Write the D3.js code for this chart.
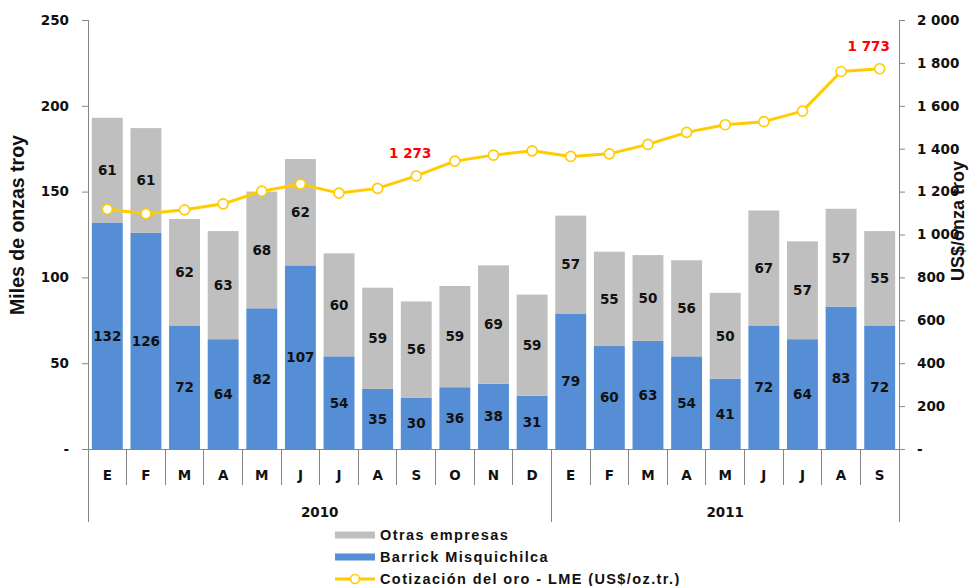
<!DOCTYPE html>
<html><head><meta charset="utf-8">
<script src="https://cdn.jsdelivr.net/npm/d3@7"></script>
<style>
body{margin:0;background:#fff;}
svg{display:block;}
</style></head>
<body>
<svg id="c" width="970" height="586"></svg>
<script>
const months = ["E","F","M","A","M","J","J","A","S","O","N","D","E","F","M","A","M","J","J","A","S"];
const years = [{label:"2010", start:0, end:12},{label:"2011", start:12, end:21}];
const barrick = [132,126,72,64,82,107,54,35,30,36,38,31,79,60,63,54,41,72,64,83,72];
const otras = [61,61,62,63,68,62,60,59,56,59,69,59,57,55,50,56,50,67,57,57,55];
const gold = [1118,1097,1115,1143,1202,1235,1193,1215,1273,1342,1370,1390,1364,1376,1420,1476,1512,1526,1575,1760,1773];
const goldLabels = [{i:8, text:"1 273", dx:-6},{i:20, text:"1 773", dx:-11}];
const leftTicks = [0,50,100,150,200,250];
const rightTicks = [0,200,400,600,800,1000,1200,1400,1600,1800,2000];
const seriesNames = ["Otras empresas","Barrick Misquichilca","Cotización del oro - LME (US$/oz.tr.)"];

const C = {blue:"#558ED5", gray:"#BFBFBF", gold:"#FFCC00", axis:"#868686", red:"#FF0000"};
const numFont = "'DejaVu Sans', Verdana, sans-serif";
const svg = d3.select("#c");

const L = 88, R = 899, T = 20, B = 449;
const x = d3.scaleBand().domain(d3.range(months.length)).range([L,R]).paddingInner(0.2).paddingOuter(0.1);
const y = d3.scaleLinear().domain([0,250]).range([B,T]);
const y2 = d3.scaleLinear().domain([0,2000]).range([B,T]);
const step = x.step();

// bars
const g = svg.append("g");
g.selectAll(".b").data(barrick).join("rect")
  .attr("x",(d,i)=>x(i)).attr("width",x.bandwidth())
  .attr("y",d=>y(d)).attr("height",d=>y(0)-y(d)).attr("fill",C.blue);
g.selectAll(".o").data(otras).join("rect")
  .attr("x",(d,i)=>x(i)).attr("width",x.bandwidth())
  .attr("y",(d,i)=>y(barrick[i]+d)).attr("height",(d,i)=>y(barrick[i])-y(barrick[i]+d)).attr("fill",C.gray);

// value labels
const lab = svg.append("g").attr("font-family",numFont).attr("font-weight","bold").attr("font-size",13.5).attr("fill","#111").attr("text-anchor","middle");
barrick.forEach((d,i)=>{
  lab.append("text").attr("x",x(i)+x.bandwidth()/2).attr("y",y(d/2)).attr("dy","0.36em").text(d);
  lab.append("text").attr("x",x(i)+x.bandwidth()/2).attr("y",y(d+otras[i]/2)).attr("dy","0.36em").text(otras[i]);
});

// axes lines
const ax = svg.append("g").attr("stroke",C.axis).attr("stroke-width",1).attr("shape-rendering","crispEdges");
ax.append("line").attr("x1",L).attr("x2",L).attr("y1",T).attr("y2",522);
ax.append("line").attr("x1",R).attr("x2",R).attr("y1",T).attr("y2",522);
ax.append("line").attr("x1",L).attr("x2",R).attr("y1",B).attr("y2",B);
for(let i=1;i<months.length;i++){
  const xx = L + i*step;
  const isYear = years.some(yv=>yv.start===i);
  ax.append("line").attr("x1",xx).attr("x2",xx).attr("y1",B).attr("y2",isYear?522:485);
}

// axes ticks
const fmt = v => v===0 ? "-" : d3.format(",")(v).replace(/,/g," ");
const la = svg.append("g").attr("transform",`translate(${L},0)`)
  .call(d3.axisLeft(y).tickValues(leftTicks).tickSize(6).tickPadding(13).tickFormat(fmt));
const ra = svg.append("g").attr("transform",`translate(${R},0)`)
  .call(d3.axisRight(y2).tickValues(rightTicks).tickSize(6).tickPadding(12).tickFormat(fmt));
[la,ra].forEach(a=>{
  a.select(".domain").remove();
  a.selectAll(".tick line").attr("stroke",C.axis);
  a.selectAll(".tick text").attr("font-family",numFont).attr("font-weight","bold").attr("font-size",13.5).attr("fill","#111");
});
la.selectAll(".tick text").filter(d=>d===0).attr("x",-19);

// month labels
const ml = svg.append("g").attr("font-family",numFont).attr("font-weight","bold").attr("font-size",13.5).attr("fill","#111").attr("text-anchor","middle");
months.forEach((m,i)=>ml.append("text").attr("x",x(i)+x.bandwidth()/2).attr("y",475).attr("dy","0.36em").text(m));
years.forEach(yv=>ml.append("text").attr("x",L+(yv.start+yv.end)/2*step).attr("y",512).attr("dy","0.36em").text(yv.label));

// gold line
const line = d3.line().x((d,i)=>x(i)+x.bandwidth()/2).y(d=>y2(d));
svg.append("path").datum(gold).attr("d",line).attr("fill","none").attr("stroke",C.gold).attr("stroke-width",3).attr("stroke-linejoin","round");
svg.append("g").selectAll("circle").data(gold).join("circle")
  .attr("cx",(d,i)=>x(i)+x.bandwidth()/2).attr("cy",d=>y2(d)).attr("r",5)
  .attr("fill","#fff").attr("stroke",C.gold).attr("stroke-width",1.6);
svg.append("g").selectAll("text").data(goldLabels).join("text")
  .attr("x",d=>x(d.i)+x.bandwidth()/2+d.dx).attr("y",d=>y2(gold[d.i])-23).attr("dy","0.36em")
  .attr("text-anchor","middle").attr("font-family",numFont).attr("font-weight","bold").attr("font-size",13.5).attr("fill",C.red)
  .text(d=>d.text);

// axis titles
svg.append("text").attr("transform","translate(17,225) rotate(-90)").attr("text-anchor","middle").attr("dy","0.36em")
  .attr("font-family","'Liberation Sans', Arial, sans-serif").attr("font-weight","bold").attr("font-size",19.5).attr("fill","#111")
  .text("Miles de onzas troy");
svg.append("text").attr("transform","translate(958,221) rotate(-90)").attr("text-anchor","middle").attr("dy","0.36em")
  .attr("font-family","'Liberation Sans', Arial, sans-serif").attr("font-weight","bold").attr("font-size",18).attr("fill","#111")
  .text("US$/onza troy");

// legend
const lg = svg.append("g").attr("font-family","'Liberation Sans', Arial, sans-serif").attr("font-weight","bold").attr("font-size",14.5).attr("fill","#111").attr("letter-spacing","1.4");
const rows = [535,557,579];
lg.append("rect").attr("x",335).attr("y",rows[0]-3.5).attr("width",40).attr("height",7).attr("fill",C.gray);
lg.append("rect").attr("x",335).attr("y",rows[1]-3.5).attr("width",40).attr("height",7).attr("fill",C.blue);
lg.append("line").attr("x1",335).attr("x2",375).attr("y1",rows[2]).attr("y2",rows[2]).attr("stroke",C.gold).attr("stroke-width",3);
lg.append("circle").attr("cx",355).attr("cy",rows[2]).attr("r",4.5).attr("fill","#fff").attr("stroke",C.gold).attr("stroke-width",1.6);
seriesNames.forEach((n,i)=>lg.append("text").attr("x",380).attr("y",rows[i]).attr("dy","0.36em").text(n));
</script>
</body></html>
